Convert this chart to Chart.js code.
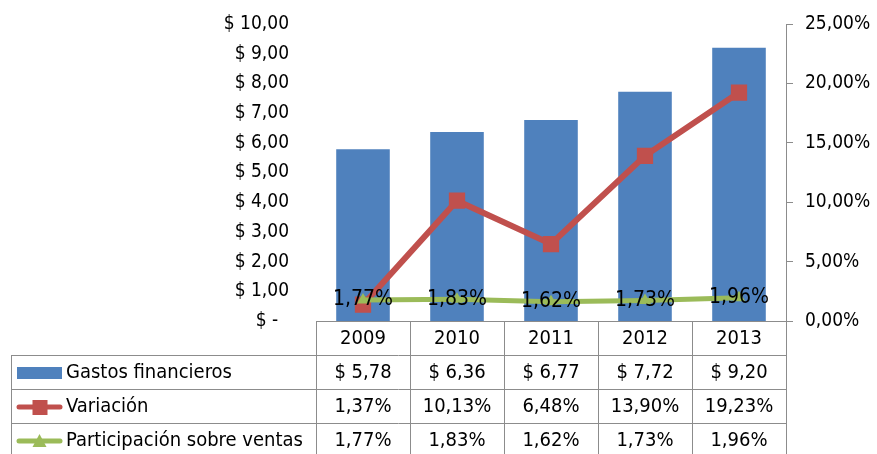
<!DOCTYPE html>
<html>
<head>
<meta charset="utf-8">
<script src="https://cdn.jsdelivr.net/npm/chart.js@4"></script>
<style>
  body { margin: 0; background: #fff; }
</style>
</head>
<body>
<canvas id="gastosChart" width="877" height="454"></canvas>
<script>
const years = ['2009', '2010', '2011', '2012', '2013'];
const gastos = [5.78, 6.36, 6.77, 7.72, 9.20];
const variacion = [1.37, 10.13, 6.48, 13.90, 19.23];
const participacion = [1.77, 1.83, 1.62, 1.73, 1.96];
const seriesNames = ['Gastos financieros', 'Variación', 'Participación sobre ventas'];

const font = '"DejaVu Sans Condensed", "Liberation Sans Narrow", "Open Sans", sans-serif';
const blue = '#4F81BD', red = '#C0504D', green = '#9BBB59';

const comma = v => v.toFixed(2).replace('.', ',');
const money = v => v === 0 ? '$ -  ' : '$ ' + comma(v);
const pct = v => comma(v) + '%';

// draws the value labels on the green line
const lineLabels = {
  id: 'lineLabels',
  afterDatasetsDraw(chart) {
    const ctx = chart.ctx;
    const meta = chart.getDatasetMeta(2);
    ctx.save();
    ctx.font = '21px ' + font;
    ctx.fillStyle = '#000';
    ctx.textAlign = 'center';
    ctx.textBaseline = 'middle';
    meta.data.forEach((pt, i) => {
      ctx.fillText(pct(participacion[i]), pt.x, pt.y);
    });
    ctx.restore();
  }
};

// data table under the plot, columns taken from the x scale
const dataTable = {
  id: 'dataTable',
  afterDraw(chart) {
    const ctx = chart.ctx, x = chart.scales.x, area = chart.chartArea;
    const half = (x.getPixelForValue(1) - x.getPixelForValue(0)) / 2;
    const top = area.bottom;
    const rowH = 34;
    const left = 11;
    const rows = [gastos.map(v => '$ ' + comma(v)), variacion.map(pct), participacion.map(pct)];

    ctx.save();
    ctx.strokeStyle = '#8c8c8c';
    ctx.lineWidth = 1;
    ctx.beginPath();
    // horizontal lines
    ctx.moveTo(area.left, top + 0.5); ctx.lineTo(area.right, top + 0.5);
    for (let r = 1; r <= 3; r++) {
      const y = Math.round(top + r * rowH) + 0.5;
      ctx.moveTo(left, y); ctx.lineTo(area.right, y);
    }
    // vertical lines
    ctx.moveTo(left + 0.5, top + rowH); ctx.lineTo(left + 0.5, chart.height);
    for (let i = 0; i <= years.length; i++) {
      const xx = Math.round(x.getPixelForValue(i) - half) + 0.5;
      ctx.moveTo(xx, top); ctx.lineTo(xx, chart.height);
    }
    ctx.stroke();

    ctx.font = '20px ' + font;
    ctx.fillStyle = '#000';
    ctx.textBaseline = 'middle';
    ctx.textAlign = 'center';
    years.forEach((yr, i) => ctx.fillText(yr, x.getPixelForValue(i), top + rowH / 2 + 1));
    rows.forEach((vals, r) => {
      const cy = top + (r + 1.5) * rowH + 1;
      vals.forEach((v, i) => ctx.fillText(v, x.getPixelForValue(i), cy));
    });

    // legend keys
    ctx.textAlign = 'left';
    seriesNames.forEach((name, r) => {
      const cy = top + (r + 1.5) * rowH + 1;
      const kx = 17, kw = 45;
      if (r === 0) {
        ctx.fillStyle = blue;
        ctx.fillRect(kx, cy - 6, kw, 12);
      } else {
        const col = r === 1 ? red : green;
        ctx.strokeStyle = col;
        ctx.lineWidth = 5;
        ctx.lineCap = 'round';
        ctx.beginPath();
        ctx.moveTo(kx + 2, cy); ctx.lineTo(kx + kw - 2, cy);
        ctx.stroke();
        ctx.fillStyle = col;
        const mx = kx + kw / 2;
        if (r === 1) {
          ctx.fillRect(mx - 7, cy - 7, 15, 15);
        } else {
          ctx.beginPath();
          ctx.moveTo(mx, cy - 7); ctx.lineTo(mx + 7, cy + 6); ctx.lineTo(mx - 7, cy + 6);
          ctx.closePath(); ctx.fill();
        }
      }
      ctx.fillStyle = '#000';
      ctx.fillText(name, 66, cy);
    });
    ctx.restore();
  }
};

new Chart(document.getElementById('gastosChart'), {
  type: 'bar',
  data: {
    labels: years,
    datasets: [{
      type: 'bar',
      label: seriesNames[0],
      data: gastos,
      backgroundColor: blue,
      yAxisID: 'y',
      categoryPercentage: 0.57,
      barPercentage: 1,
      order: 3
    }, {
      type: 'line',
      label: seriesNames[1],
      data: variacion,
      borderColor: red,
      backgroundColor: red,
      borderWidth: 6,
      pointStyle: 'rect',
      pointRadius: 11.5,
      pointBorderWidth: 0,
      tension: 0,
      yAxisID: 'y1',
      order: 2
    }, {
      type: 'line',
      label: seriesNames[2],
      data: participacion,
      borderColor: green,
      backgroundColor: green,
      borderWidth: 5,
      pointStyle: 'triangle',
      pointRadius: 7,
      pointBorderWidth: 0,
      tension: 0,
      yAxisID: 'y1',
      order: 1
    }]
  },
  options: {
    responsive: false,
    animation: false,
    layout: { padding: { top: 24, bottom: 133, left: 0, right: 0 } },
    plugins: { legend: { display: false }, tooltip: { enabled: false } },
    scales: {
      x: { display: false },
      y: {
        position: 'left',
        min: 0, max: 10,
        afterFit(scale) { scale.width = 316; scale.paddingTop = 0; scale.paddingBottom = 0; },
        grid: { display: false },
        border: { display: false },
        ticks: {
          stepSize: 1,
          padding: 19,
          color: '#000',
          font: { family: font, size: 19 },
          callback: v => money(v)
        }
      },
      y1: {
        position: 'right',
        min: 0, max: 25,
        afterFit(scale) { scale.width = 91; scale.paddingTop = 0; scale.paddingBottom = 0; },
        grid: { drawOnChartArea: false, drawTicks: true, tickLength: 7, color: '#8c8c8c' },
        border: { display: true, color: '#8c8c8c' },
        ticks: {
          stepSize: 5,
          padding: 12,
          color: '#000',
          font: { family: font, size: 19 },
          callback: v => pct(v)
        }
      }
    }
  },
  plugins: [lineLabels, dataTable]
});
</script>
</body>
</html>
